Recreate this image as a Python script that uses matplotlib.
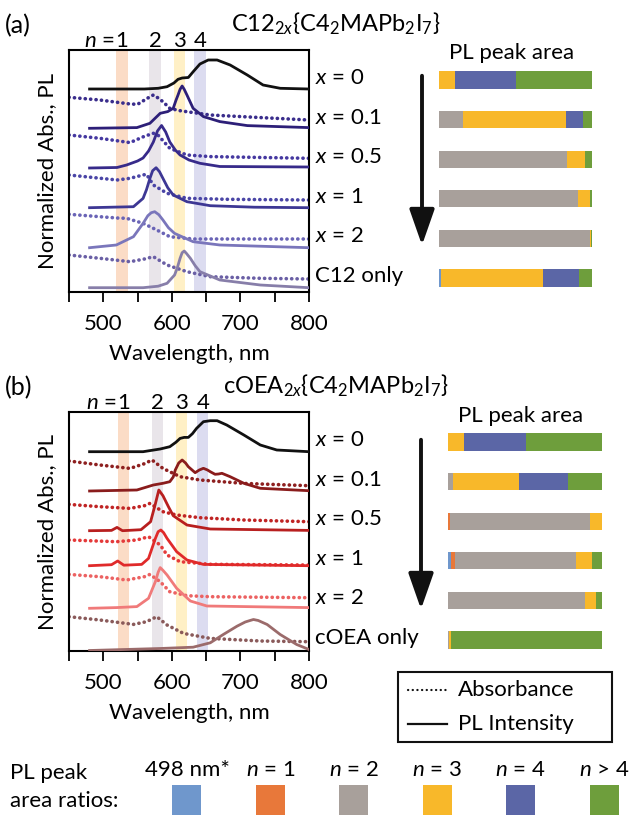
import matplotlib
matplotlib.use("Agg")
import matplotlib.pyplot as plt
from matplotlib.lines import Line2D
from matplotlib.patches import Rectangle, FancyArrowPatch
import numpy as np

plt.rcParams['font.family'] = ['Lato', 'DejaVu Sans']
plt.rcParams['mathtext.fontset'] = 'custom'
plt.rcParams['mathtext.rm'] = 'Lato'
plt.rcParams['mathtext.it'] = 'Lato:italic'
plt.rcParams['mathtext.bf'] = 'Lato:bold'

W, H = 634, 818

# ---------------- data ----------------
# panel (a): C12 series, heights above each trace's own baseline
a_labels = ['$x$ = 0', '$x$ = 0.1', '$x$ = 0.5', '$x$ = 1', '$x$ = 2', 'C12 only']
a_pl_offset = [20.3, 16.37, 12.4, 8.43, 4.43, 0.43]
a_abs_offset = [None, 17.2, 13.37, 9.2, 5.3, 1.3]
a_colors = ['#111111', '#2d1f78', '#372a8a', '#3d3794', '#7a76bb', '#877ea9']
a_abs_colors = [None, '#3a2d8c', '#4538a0', '#4a45a6', '#6a64b6', '#6a5fa5']

a_pl_wl = [
    [480, 560, 580, 593, 603, 609, 615, 624, 632, 641, 653, 666, 685, 710, 733, 758, 800],
    [480, 549, 568, 583, 594, 602, 606, 609, 612, 615, 618, 622, 631, 646, 670, 710, 800],
    [480, 520, 534, 550, 558, 566, 573, 579, 585, 591, 597, 605, 612, 625, 641, 670, 800],
    [480, 544, 558, 563, 568, 572, 577, 582, 587, 594, 602, 622, 656, 720, 800],
    [480, 519, 544, 558, 565, 570, 575, 581, 587, 595, 604, 631, 670, 800],
    [480, 558, 580, 593, 604, 608, 612, 615, 618, 621, 627, 634, 641, 670, 729, 800],
]
a_pl_val = [
    [0, 0, 0.07, 0.23, 0.6, 0.97, 1.1, 1.15, 1.8, 2.5, 2.9, 2.9, 2.4, 1.4, 0.4, 0.07, 0],
    [0, 0.07, 0.5, 1.5, 1.67, 2.0, 2.8, 3.33, 3.9, 4.23, 3.9, 3.33, 2.0, 1.17, 0.67, 0.27, 0.07],
    [0, 0.05, 0.3, 0.7, 1.0, 1.7, 2.6, 3.7, 4.25, 3.6, 2.6, 1.8, 1.3, 0.8, 0.47, 0.15, 0.1],
    [0, 0.1, 0.93, 1.8, 2.93, 3.7, 4.0, 3.6, 2.93, 2.0, 1.27, 0.6, 0.2, 0.05, 0],
    [0, 0.27, 1.1, 2.43, 3.2, 3.5, 3.6, 3.3, 2.77, 2.0, 1.43, 0.6, 0.27, 0],
    [0, 0, 0.15, 0.44, 1.27, 2.0, 2.94, 3.5, 3.67, 3.45, 2.94, 2.2, 1.6, 0.77, 0.27, 0],
]
a_abs_wl = [
    None,
    [450, 495, 539, 550, 565, 573, 580, 587, 597, 610, 622, 656, 704, 800],
    [450, 495, 539, 560, 573, 580, 597, 622, 656, 800],
    [450, 520, 539, 558, 563, 573, 593, 622, 680, 800],
    [450, 495, 520, 534, 558, 578, 597, 631, 800],
    [450, 495, 539, 560, 573, 593, 622, 656, 729, 800],
]
a_abs_val = [
    None,
    [2.27, 2.0, 1.6, 1.57, 2.2, 2.5, 2.2, 1.83, 1.17, 0.95, 0.83, 0.5, 0.33, 0],
    [2.33, 2.0, 1.57, 2.2, 2.5, 2.3, 1.0, 0.33, 0.17, 0],
    [2.5, 2.0, 2.17, 2.5, 2.57, 1.5, 0.67, 0.17, 0.07, 0],
    [2.47, 2.23, 2.1, 2.07, 1.57, 0.9, 0.23, 0, 0],
    [2.4, 2.07, 1.73, 2.0, 2.23, 1.4, 0.73, 0.23, 0.07, 0],
]
a_bands = [(518, 536), (567, 584), (603, 619), (633, 650)]

# panel (b): cOEA series
b_labels = ['$x$ = 0', '$x$ = 0.1', '$x$ = 0.5', '$x$ = 1', '$x$ = 2', 'cOEA only']
b_pl_offset = [19.93, 16.0, 12.03, 8.53, 4.27, 0.05]
b_abs_offset = [None, 16.53, 12.93, 8.6, 5.33, 0.93]
b_colors = ['#111111', '#8a1c1c', '#b81f1f', '#e02a2a', '#f07a7a', '#9b6b6b']
b_abs_colors = [None, '#8e2020', '#c02424', '#e43a3a', '#ec6262', '#8a5a5a']

b_pl_wl = [
    [480, 558, 583, 597, 606, 612, 618, 624, 630, 636, 646, 656, 666, 680, 705, 729, 753, 800],
    [480, 549, 573, 587, 597, 602, 605, 610, 615, 620, 624, 634, 640, 646, 652, 656, 663, 668, 673, 685, 705, 729, 800],
    [480, 512, 520, 528, 555, 569, 576, 581, 587, 595, 602, 622, 656, 800],
    [480, 512, 521, 530, 556, 566, 576, 580, 584, 588, 593, 607, 622, 646, 800],
    [480, 519, 549, 566, 576, 580, 583, 587, 593, 607, 627, 651, 800],
    [480, 583, 631, 656, 675, 695, 707, 714, 719, 726, 739, 758, 782, 800],
]
b_pl_val = [
    [0, 0, 0.27, 0.5, 0.95, 1.33, 1.43, 1.43, 1.8, 2.33, 3.0, 3.1, 3.1, 2.67, 1.67, 0.67, 0.17, 0],
    [0, 0.1, 0.6, 0.77, 0.93, 1.4, 2.1, 2.8, 3.1, 2.8, 2.43, 1.83, 2.1, 2.27, 2.1, 1.93, 1.67, 1.7, 1.77, 1.43, 0.77, 0.27, 0.03],
    [0, 0.03, 0.33, 0, 0.1, 0.9, 2.7, 4.07, 3.5, 2.4, 1.5, 0.57, 0.17, 0.03],
    [0, 0.1, 0.47, 0.05, 0.13, 0.73, 2.73, 3.4, 3.57, 3.3, 2.73, 1.4, 0.57, 0.13, 0],
    [0, 0.07, 0.17, 1.0, 2.67, 3.6, 4.07, 3.8, 3.33, 2.0, 0.73, 0.23, 0.07],
    [0, 0.2, 0.33, 0.77, 1.6, 2.43, 2.85, 3.0, 3.1, 3.0, 2.6, 1.6, 0.6, 0.1],
]
b_abs_wl = [
    None,
    [450, 495, 539, 560, 571, 587, 612, 641, 705, 800],
    [450, 495, 539, 560, 568, 587, 607, 641, 705, 800],
    [450, 519, 549, 566, 583, 593, 612, 656, 800],
    [450, 495, 534, 560, 568, 583, 597, 622, 656, 800],
    [450, 495, 544, 563, 578, 593, 617, 656, 729, 800],
]
b_abs_val = [
    None,
    [2.47, 2.07, 1.73, 2.2, 2.57, 1.73, 0.9, 0.57, 0.23, 0],
    [1.73, 1.5, 1.33, 1.6, 1.83, 1.0, 0.67, 0.4, 0.17, 0],
    [2.5, 2.33, 2.5, 2.83, 2.0, 1.0, 0.33, 0.07, 0],
    [2.33, 2.1, 1.77, 2.1, 2.33, 1.6, 0.6, 0.2, 0.1, 0],
    [2.5, 2.17, 1.73, 2.0, 2.5, 1.67, 0.83, 0.33, 0.07, 0],
]
b_bands = [(521, 538), (571, 587), (606, 622), (637, 653)]

band_colors = ['#fbdcc6', '#e9e5ea', '#fff0c6', '#dcdcf0']
band_text = ['1', '2', '3', '4']

# PL peak area ratios: 498 nm*, n=1, n=2, n=3, n=4, n>4
ratio_names = ['498 nm*', '$n$ = 1', '$n$ = 2', '$n$ = 3', '$n$ = 4', '$n$ > 4']
ratio_colors = ['#6f97cc', '#e8783a', '#a8a09b', '#f8b82a', '#5b66a6', '#6e9e3c']
a_ratios = [
    [0, 0, 0, 0.104, 0.402, 0.494],
    [0, 0, 0.154, 0.674, 0.113, 0.059],
    [0, 0, 0.839, 0.117, 0, 0.044],
    [0, 0, 0.909, 0.076, 0, 0.015],
    [0, 0, 0.988, 0.008, 0, 0.004],
    [0.013, 0, 0, 0.664, 0.238, 0.085],
]
b_ratios = [
    [0, 0, 0, 0.104, 0.403, 0.493],
    [0, 0, 0.033, 0.430, 0.317, 0.220],
    [0, 0.011, 0.909, 0.080, 0, 0],
    [0.022, 0.024, 0.782, 0.107, 0, 0.065],
    [0, 0, 0.887, 0.072, 0, 0.041],
    [0, 0, 0.008, 0.012, 0, 0.980],
]


def fx(x):
    return x / W


def fy(y):
    return 1 - y / H


fig = plt.figure(figsize=(W / 100, H / 100), dpi=100)
FS = 16
DOTS = (0, (0.05, 1.45))


def spectra(top, bottom, title, tag, labels, pl_off, abs_off, cols, abs_cols,
            pl_wl, pl_val, abs_wl, abs_val, bands):
    ax = fig.add_axes([fx(69), fy(bottom), fx(309) - fx(69), fy(top) - fy(bottom)])
    ax.set_xlim(450, 800)
    ax.set_ylim(0, (bottom - top) / 10)
    for (lo, hi), c in zip(bands, band_colors):
        ax.axvspan(lo, hi, color=c, lw=0, zorder=0)
    for i in range(len(labels)):
        if abs_wl[i] is not None:
            ax.plot(abs_wl[i], np.array(abs_val[i]) + abs_off[i], color=abs_cols[i],
                    lw=2.6, ls=DOTS, dash_capstyle='round', zorder=2)
        ax.plot(pl_wl[i], np.array(pl_val[i]) + pl_off[i], color=cols[i], lw=2.0, zorder=3)
        fig.text(fx(315), fy(top + 28 + 39.6 * i), labels[i], va='center', fontsize=FS)
    ax.set_xticks([500, 600, 700, 800])
    ax.set_xticklabels([])
    ax.set_xticks([450, 550, 650, 750], minor=True)
    ax.set_yticks([])
    ax.tick_params(axis='x', which='both', direction='out', length=7, width=1.3)
    for s in ax.spines.values():
        s.set_linewidth(1.5)
    for t in [500, 600, 700, 800]:
        fig.text(fx(69 + (t - 450) * 0.6857), fy(bottom + 32), str(t), ha='center', va='center', fontsize=FS)
    fig.text(fx(189), fy(bottom + 62), 'Wavelength, nm', ha='center', va='center', fontsize=FS)
    fig.text(fx(47), fy((top + bottom) / 2), 'Normalized Abs., PL', rotation=90,
             ha='center', va='center', fontsize=FS)
    # band labels
    for (lo, hi), t in zip(bands, band_text):
        xc = 69 + ((lo + hi) / 2 - 450) * 0.6857
        fig.text(fx(xc), fy(top - 9), t, ha='center', va='center', fontsize=FS)
    xc1 = 69 + ((bands[0][0] + bands[0][1]) / 2 - 450) * 0.6857
    fig.text(fx(xc1 - 7), fy(top - 9), '$n$ =', ha='right', va='center', fontsize=FS)
    fig.text(fx(5), fy(top - 24), tag, ha='left', va='center', fontsize=FS + 2)
    fig.text(fx(336), fy(top - 26), title, ha='center', va='center', fontsize=FS + 1)
    return ax


spectra(50, 292, 'C12$_{2x}${C4$_2$MAPb$_2$I$_7$}', '(a)', a_labels,
        a_pl_offset, a_abs_offset, a_colors, a_abs_colors,
        a_pl_wl, a_pl_val, a_abs_wl, a_abs_val, a_bands)
spectra(412, 651, 'cOEA$_{2x}${C4$_2$MAPb$_2$I$_7$}', '(b)', b_labels,
        b_pl_offset, b_abs_offset, b_colors, b_abs_colors,
        b_pl_wl, b_pl_val, b_abs_wl, b_abs_val, b_bands)


def bars(left, right, row0, ratios, title_y):
    bx = fig.add_axes([fx(left), fy(row0 + 5 * 39.6 + 19.8), fx(right) - fx(left), 6 * 39.6 / H])
    bx.set_xlim(0, 1)
    bx.set_ylim(5.5, -0.5)
    r = np.array(ratios)
    starts = np.cumsum(r, axis=1) - r
    for j, c in enumerate(ratio_colors):
        bx.barh(np.arange(len(r)), r[:, j], left=starts[:, j], height=0.43, color=c,
                edgecolor='none')
    bx.axis('off')
    fig.text(fx((left + right) / 2 - 4), fy(title_y), 'PL peak area', ha='center', va='center', fontsize=FS)


bars(439, 592, 80, a_ratios, 53)
bars(448, 602, 442, b_ratios, 416)

for x0, y0, y1 in [(422, 73, 248), (421, 437, 612)]:
    fig.add_artist(FancyArrowPatch(
        (fx(x0), fy(y0)), (fx(x0), fy(y1)), transform=fig.transFigure,
        arrowstyle='-|>,head_width=0.35,head_length=1.0', mutation_scale=22,
        lw=2.8, color='#111111'))

# line style legend
fig.add_artist(Rectangle((fx(398), fy(742)), fx(612) - fx(398), fy(672) - fy(742),
                         transform=fig.transFigure, fill=False, lw=1.5, ec='#111111'))
fig.add_artist(Line2D([fx(408), fx(447)], [fy(690), fy(690)], transform=fig.transFigure,
                      color='#111111', lw=1.6, ls=(0, (0.1, 2.0)), dash_capstyle='round'))
fig.add_artist(Line2D([fx(408), fx(447)], [fy(724), fy(724)], transform=fig.transFigure,
                      color='#111111', lw=1.6))
fig.text(fx(458), fy(690), 'Absorbance', ha='left', va='center', fontsize=FS)
fig.text(fx(458), fy(724), 'PL Intensity', ha='left', va='center', fontsize=FS)

# colour key
fig.text(fx(10), fy(773), 'PL peak', ha='left', va='center', fontsize=FS)
fig.text(fx(10), fy(801), 'area ratios:', ha='left', va='center', fontsize=FS)
for k, (name, c) in enumerate(zip(ratio_names, ratio_colors)):
    xc = 187 + 83.4 * k
    fig.text(fx(xc), fy(770), name, ha='center', va='center', fontsize=FS)
    fig.add_artist(Rectangle((fx(xc - 14.5), fy(815)), 29 / W, 30 / H,
                             transform=fig.transFigure, color=c, lw=0))

fig.savefig('out.png', dpi=100)
